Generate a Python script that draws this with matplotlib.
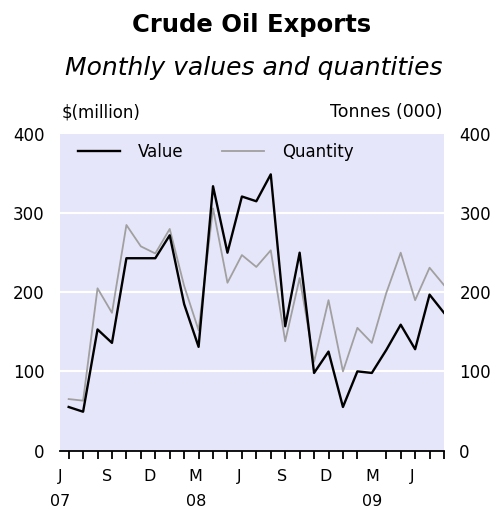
import numpy as np
import matplotlib
matplotlib.use("Agg")
import matplotlib.pyplot as plt

# monthly data, Jul 2007 - Sep 2009
value = [55, 49, 153, 136, 243, 243, 243, 272, 185, 131, 334, 250, 321, 315,
         349, 157, 250, 98, 125, 55, 100, 98, 127, 159, 128, 197, 174]
quantity = [65, 63, 205, 174, 285, 258, 249, 280, 208, 152, 306, 212, 247, 232,
            253, 138, 218, 112, 190, 100, 155, 136, 199, 250, 190, 231, 209]

# axis labels
month_labels = ["J\n07", "S", "D", "M\n08", "J", "S", "D", "M\n09", "J"]
month_pos = [-0.6, 2.65, 5.6, 8.8, 11.8, 14.8, 17.8, 21.0, 23.8]
y_ticks = [0, 100, 200, 300, 400]

plt.rcParams['font.family'] = ['DejaVu Sans']

fig = plt.figure(figsize=(4.96, 5.09), dpi=100)
ax = fig.add_axes([60/496, 58.5/509, 384/496, 316.5/509])
ax.set_facecolor('#e6e6fa')

x = np.arange(len(value))
ax.plot(x, quantity, c='#a0a0a0', lw=1.3, label="Quantity", zorder=3)
ax.plot(x, value, c='black', lw=1.7, label="Value", zorder=4)

ax.set_xlim(0, len(value) - 1)
ax.set_ylim(0, 400)

# grid
for yv in y_ticks[1:-1]:
    ax.axhline(yv, c='white', lw=1.5, zorder=1)

for s in ['top', 'left', 'right']:
    ax.spines[s].set_visible(False)
ax.spines['bottom'].set_linewidth(1.3)

ax.set_yticks(y_ticks)
ax.tick_params(axis='y', length=0, labelsize=12, labelright=True, pad=11)

ax.set_xticks(x, minor=True)
ax.set_xticks(month_pos, month_labels)
ax.tick_params(axis='x', which='minor', length=6, width=1.3, direction='out')
ax.tick_params(axis='x', which='major', length=0, labelsize=11.5, pad=13)
for lbl in ax.get_xticklabels():
    lbl.set_linespacing(1.9)
    lbl.set_verticalalignment('top')

# legend
handles, labels = ax.get_legend_handles_labels()
ax.legend(handles[::-1], labels[::-1], loc='center left', ncol=2, frameon=False,
          fontsize=12, handlelength=2.5, handletextpad=1.1, columnspacing=2.3,
          borderpad=0, borderaxespad=0, bbox_to_anchor=(0.047, 0.943))

# axis units
ax.text(0.005, 1.04, "$(million)", transform=ax.transAxes, fontsize=12,
        ha='left', va='bottom')
ax.text(0.995, 1.04, "Tonnes (000)", transform=ax.transAxes, fontsize=12.5,
        ha='right', va='bottom')

fig.text(0.508, 1 - 25/509, "Crude Oil Exports", fontsize=17.5, weight='bold',
         ha='center', va='center')
fig.text(0.512, 1 - 68/509, "Monthly values and quantities", fontsize=18,
         style='italic', ha='center', va='center')

fig.savefig("out.png", dpi=100)
